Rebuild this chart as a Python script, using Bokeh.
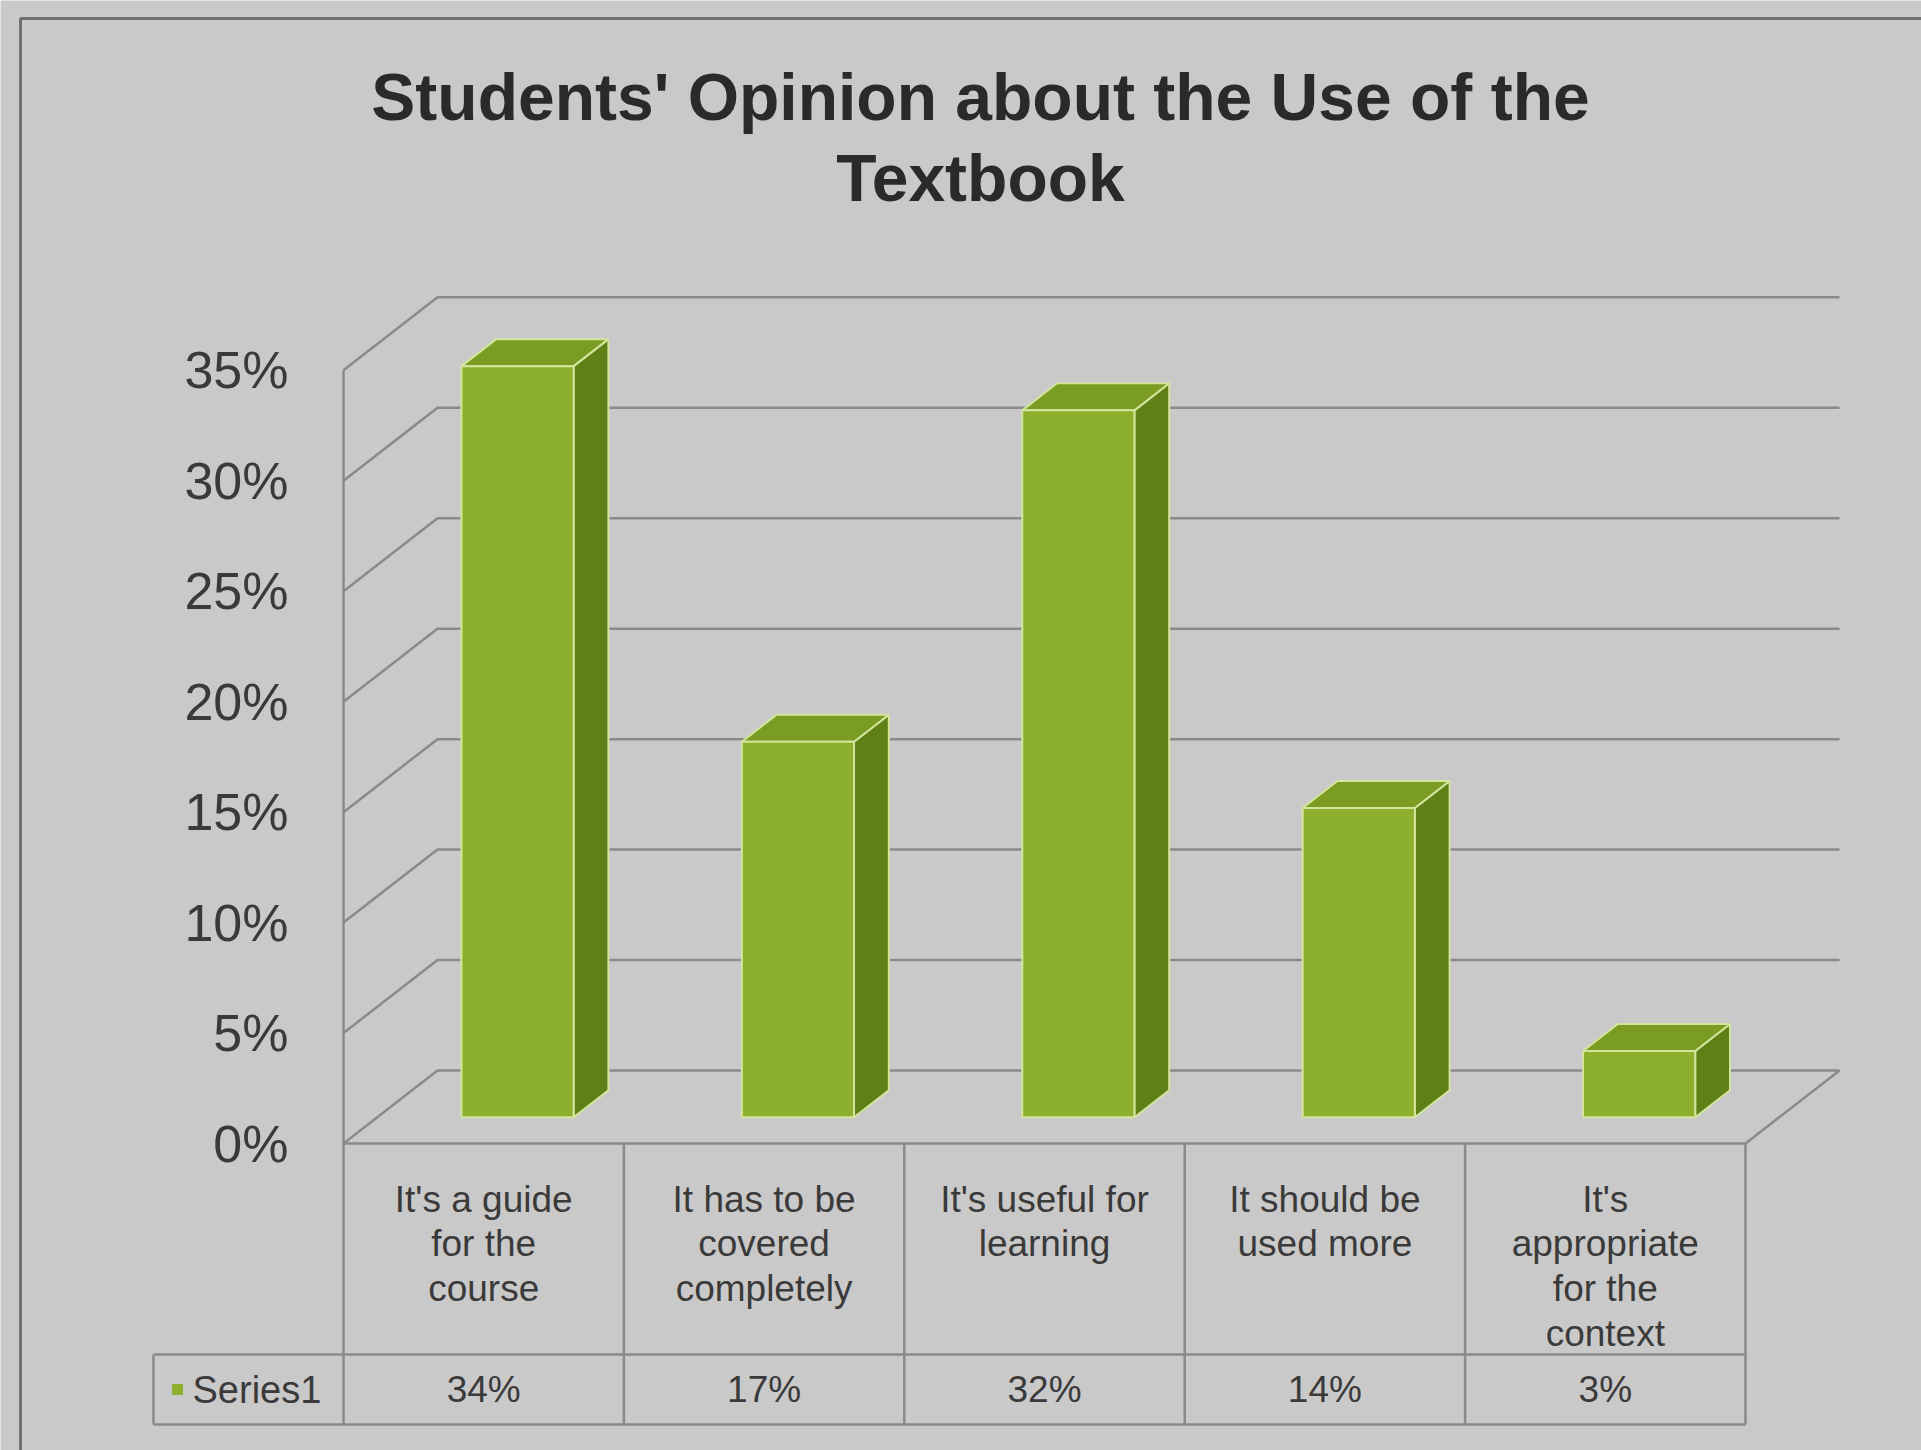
from bokeh.plotting import figure
from bokeh.models import Range1d, LinearAxis, FixedTicker, PrintfTickFormatter, ColumnDataSource
from bokeh.core.properties import value
from bokeh.embed import file_html
from bokeh.resources import INLINE

# ---------------- data ----------------
title_text = "Students' Opinion about the Use of the\nTextbook"
categories = [
    "It's a guide\nfor the\ncourse",
    "It has to be\ncovered\ncompletely",
    "It's useful for\nlearning",
    "It should be\nused more",
    "It's\nappropriate\nfor the\ncontext",
]
values = [34, 17, 32, 14, 3]
value_labels = ["34%", "17%", "32%", "14%", "3%"]
y_ticks = [0, 5, 10, 15, 20, 25, 30, 35]
series_name = "Series1"

# ---------------- layout constants (pixels) ----------------
W, H = 1921, 1450
X0_PX, COL_PX = 343.0, 280.4      # front-left corner of plot area, column width
Y0_PX, UNIT_PX = 1143.0, 22.09    # 0% baseline, pixels per 1 %

def X(px):
    return (px - X0_PX) / COL_PX

def Y(py):
    return (Y0_PX - py) / UNIT_PX

DX, DY = 94 / COL_PX, 73 / UNIT_PX   # 3D depth vector in data units
F0, F1 = 0.36, 0.73                  # bar depth (front/back fraction)
HW = 0.2                             # half bar width

BG = "#cac9c9"
GRID = "#8a8a8a"
FRONT, SIDE, TOP, EDGE = "#8cb02e", "#5f7f17", "#7a9c22", "#d3e59c"
TXT = "#3a3a3a"
FONT = value("Liberation Sans")

n = len(values)

p = figure(width=W, height=H, x_range=Range1d(X(0), X(W)), y_range=Range1d(Y(H), Y(0)),
           x_axis_type=None, y_axis_type=None, toolbar_location=None,
           output_backend="svg", min_border=0)
p.title.visible = False
p.background_fill_color = BG
p.border_fill_color = BG
p.outline_line_color = None

# ---------------- y axis ----------------
yaxis = LinearAxis(fixed_location=0, ticker=FixedTicker(ticks=y_ticks),
                   formatter=PrintfTickFormatter(format="%d%%"))
yaxis.axis_line_color = None
yaxis.major_tick_line_color = None
yaxis.minor_tick_line_color = None
yaxis.major_tick_out = 0
yaxis.major_tick_in = 0
yaxis.major_label_standoff = 55
yaxis.major_label_text_font = "Liberation Sans"
yaxis.major_label_text_font_size = "52px"
yaxis.major_label_text_color = TXT
p.add_layout(yaxis, "left")

# ---------------- walls & gridlines ----------------
top = y_ticks[-1]
p.multi_line([[0, DX, n + DX] for t in y_ticks], [[t, t + DY, t + DY] for t in y_ticks],
             line_color=GRID, line_width=2.5)
p.line([0, 0], [Y(1424), top], line_color=GRID, line_width=2.5)
p.line([0, n, n + DX], [0, 0, DY], line_color=GRID, line_width=2.5)

# ---------------- 3D bars ----------------
ddx, ddy = (F1 - F0) * DX, (F1 - F0) * DY
left = [i + 0.5 - HW + F0 * DX for i in range(n)]
right = [i + 0.5 + HW + F0 * DX for i in range(n)]
bottom = [F0 * DY for _ in range(n)]
tops = [v + F0 * DY for v in values]

side_xs = [[r, r + ddx, r + ddx, r] for r in right]
side_ys = [[b, b + ddy, t + ddy, t] for b, t in zip(bottom, tops)]
top_xs = [[l, r, r + ddx, l + ddx] for l, r in zip(left, right)]
top_ys = [[t, t, t + ddy, t + ddy] for t in tops]

p.patches(side_xs, side_ys, fill_color=SIDE, line_color=EDGE, line_width=2)
p.patches(top_xs, top_ys, fill_color=TOP, line_color=EDGE, line_width=2)
bars = ColumnDataSource(dict(left=left, right=right, bottom=bottom, top=tops, v=values))
p.quad(left="left", right="right", bottom="bottom", top="top", source=bars,
       fill_color=FRONT, line_color=EDGE, line_width=2)

# ---------------- data table ----------------
ROW1, ROW2 = Y(1354), Y(1424)
LEG_L = X(153)
p.multi_line([[i, i] for i in range(1, n + 1)], [[0, ROW2] for _ in range(1, n + 1)],
             line_color=GRID, line_width=2.5)
p.multi_line([[LEG_L, n], [LEG_L, n], [LEG_L, LEG_L]], [[ROW1, ROW1], [ROW2, ROW2], [ROW1, ROW2]],
             line_color=GRID, line_width=2.5)

p.text(x=[i + 0.5 for i in range(n)], y=[Y(1178)] * n, text=categories,
       text_align="center", text_baseline="top", text_font=FONT,
       text_font_size=value("37px"), text_line_height=1.09, text_color=TXT)
p.text(x=[i + 0.5 for i in range(n)], y=[Y(1389)] * n, text=value_labels,
       text_align="center", text_baseline="middle", text_font=FONT,
       text_font_size=value("37px"), text_color=TXT)
p.scatter(x=[X(177)], y=[Y(1389)], marker="square", size=11, fill_color=FRONT, line_color=None)
p.text(x=[X(192)], y=[Y(1389)], text=[series_name], text_align="left", text_baseline="middle",
       text_font=FONT, text_font_size=value("38px"), text_color=TXT)

# ---------------- title ----------------
p.text(x=[X(980)], y=[Y(137)], text=[title_text], text_align="center", text_baseline="middle",
       text_font=FONT, text_font_style="bold", text_font_size=value("66px"),
       text_line_height=1.1, text_color="#2a2a2a")

# ---------------- outer chart border ----------------
p.line([X(20), X(20), X(W)], [Y(H), Y(18), Y(18)], line_color="#707070", line_width=3)

open("out.html", "w").write(file_html(p, INLINE))
